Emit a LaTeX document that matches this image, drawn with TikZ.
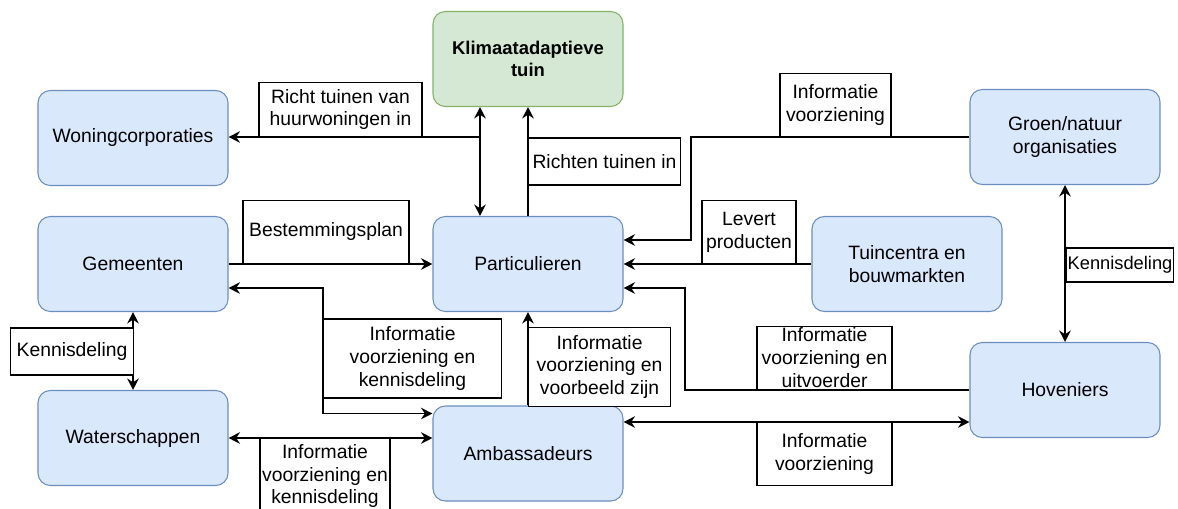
\documentclass[tikz,border=0pt]{standalone}
\usepackage{fontspec}
\setmainfont{Liberation Sans}
\usetikzlibrary{arrows.meta}
\definecolor{boxblue}{HTML}{DAE8FC}
\definecolor{lineblue}{HTML}{6C8EBF}
\definecolor{boxgreen}{HTML}{D5E8D4}
\definecolor{linegreen}{HTML}{82B366}
\begin{document}
\begin{tikzpicture}[
    actor/.style={draw=lineblue,fill=boxblue,rounded corners=7pt,minimum width=3.8cm,minimum height=1.9cm,align=center,line width=0.6pt},
    goal/.style={actor,draw=linegreen,fill=boxgreen,font=\fontsize{10.5}{12.5}\selectfont\bfseries},
    lbl/.style={draw,fill=white,align=center,inner sep=1pt,line width=0.6pt},
    flow/.style={line width=0.9pt,-{Stealth[length=6.5pt,width=6.5pt]}},
    both/.style={flow,{Stealth[length=6.5pt,width=6.5pt]}-{Stealth[length=6.5pt,width=6.5pt]}},
    font=\fontsize{11}{13}\selectfont]
    \useasboundingbox (0,0) rectangle (23.56,-10.16);
    \node[goal](klimaat)at(10.56,-1.18){Klimaatadaptieve\\tuin};
    \node[actor](woning)at(2.66,-2.76){Woningcorporaties};
    \node[actor](gemeenten)at(2.66,-5.28){Gemeenten};
    \node[actor](water)at(2.66,-8.76){Waterschappen};
    \node[actor](partic)at(10.56,-5.28){Particulieren};
    \node[actor](ambass)at(10.56,-9.07){Ambassadeurs};
    \node[actor](tuin)at(18.14,-5.28){Tuincentra en\\bouwmarkten};
    \node[actor](groen)at(21.3,-2.74){Groen/natuur\\organisaties};
    \node[actor](hoven)at(21.3,-7.8){Hoveniers};
    \coordinate(split)at(9.6,-2.74);
    \draw[both]([xshift=-0.96cm]klimaat.south)--([xshift=-0.96cm]partic.north);
    \draw[flow](partic)--(klimaat);
    \draw[flow](split)--(split-|woning.east);
    \draw[flow](gemeenten)--(partic);
    \draw[both]([yshift=-0.48cm]gemeenten.east)-|(6.46,-7)|-([yshift=0.8cm]ambass.west);
    \draw[both](gemeenten)--(water);
    \draw[both](water.east)--(water.east-|ambass.west);
    \draw[flow](ambass)--(partic);
    \draw[flow](tuin)--(partic);
    \draw[flow](hoven.west)-|(13.7,-6.5)|-([yshift=-0.48cm]partic.east);
    \draw[both]([yshift=0.63cm]ambass.east)--([yshift=0.63cm]ambass.east-|hoven.west);
    \draw[both](groen)--(hoven);
    \draw[flow](groen.west)-|(13.82,-4)|-([yshift=0.48cm]partic.east);
    \node[lbl,anchor=south,minimum width=3.26cm,minimum height=1.08cm](lhuur)at(6.81,-2.74){Richt tuinen van\\huurwoningen in};
    \node[lbl,anchor=west,minimum width=3.04cm,minimum height=0.94cm](ltuinen)at(10.56,-3.23){Richten tuinen in};
    \node[lbl,anchor=south,minimum width=3.32cm,minimum height=1.26cm](lplan)at(6.52,-5.28){Bestemmingsplan};
    \node[lbl,anchor=west,minimum width=3.56cm,minimum height=1.58cm](lgem)at(6.46,-7.17){Informatie\\voorziening en\\kennisdeling};
    \node[lbl,anchor=east,minimum width=2.46cm,minimum height=0.94cm](lkenwater)at(2.68,-7.03){Kennisdeling};
    \node[lbl,anchor=north,minimum width=2.6cm,minimum height=1.5cm](lwater)at(6.5,-8.76){Informatie\\voorziening en\\kennisdeling};
    \node[lbl,anchor=south west,minimum width=2.84cm,minimum height=1.58cm](lamb)at(10.56,-8.14){Informatie\\voorziening en\\voorbeeld zijn};
    \node[lbl,anchor=south,minimum width=1.88cm,minimum height=1.26cm](llevert)at(14.98,-5.28){Levert\\producten};
    \node[lbl,anchor=south,minimum width=2.7cm,minimum height=1.26cm](lhoven)at(16.49,-7.8){Informatie\\voorziening en\\uitvoerder};
    \node[lbl,anchor=north,minimum width=2.7cm,minimum height=1.26cm](lhovamb)at(16.49,-8.44){Informatie\\voorziening};
    \node[lbl,anchor=west,minimum width=2.14cm,minimum height=0.68cm,inner sep=0.5pt,font=\fontsize{10.4}{12}\selectfont](lkengroen)at(21.32,-5.3){Kennisdeling};
    \node[lbl,anchor=south,minimum width=2.22cm,minimum height=1.26cm](lgroen)at(16.71,-2.74){Informatie\\voorziening};
\end{tikzpicture}
\end{document}
